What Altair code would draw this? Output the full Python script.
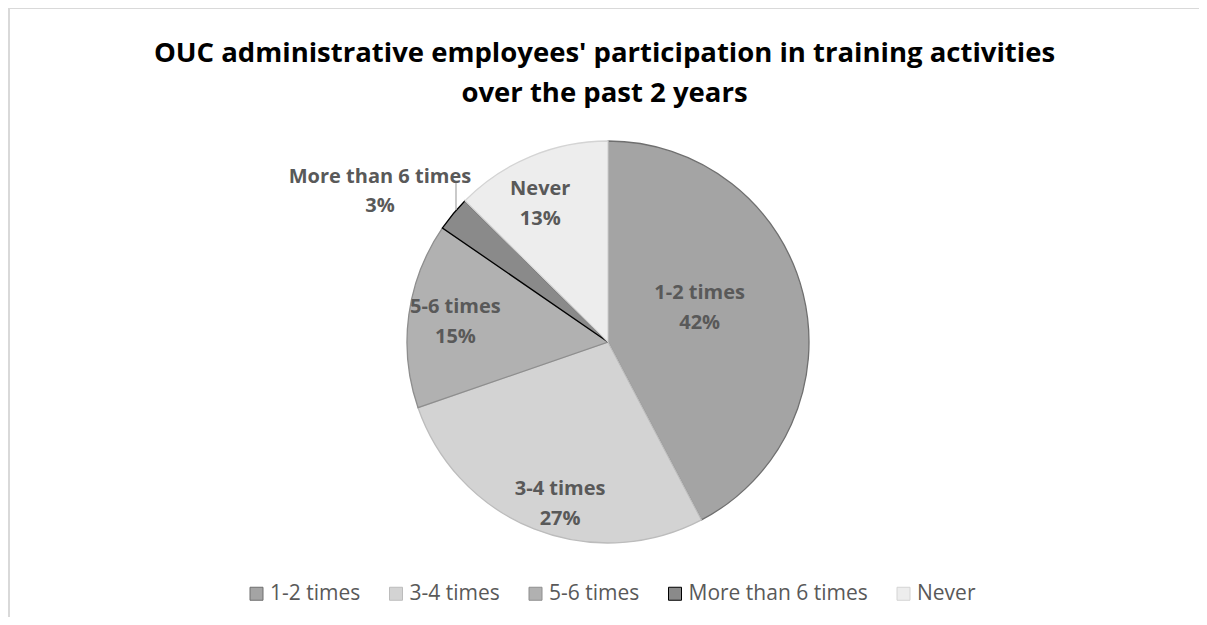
import math
import altair as alt
import pandas as pd

categories = ["1-2 times", "3-4 times", "5-6 times", "More than 6 times", "Never"]
values = [42.3, 27.4, 14.9, 2.8, 12.6]
fill_colors = ["#a4a4a4", "#d3d3d3", "#b1b1b1", "#8a8a8a", "#ededed"]
stroke_colors = ["#6f6f6f", "#bcbcbc", "#8e8e8e", "#000000", "#d4d4d4"]
title_lines = ["OUC administrative employees' participation in training activities",
               "over the past 2 years"]

df = pd.DataFrame({"category": categories, "value": values, "idx": list(range(len(categories)))})

# layout (plot-area coordinates; plot origin at page (10, 118))
W, H = 1189, 499
CX, CY = 598, 224
R = 201
label_r = {"1-2 times": 98, "3-4 times": 168, "5-6 times": 154, "More than 6 times": 270, "Never": 155}
label_shift = {"1-2 times": -1.9, "3-4 times": -1.4, "5-6 times": 0, "More than 6 times": 0, "Never": -0.9}


def case_expr(mapping, default):
    return " : ".join([f"datum.category == '{k}' ? {v}" for k, v in mapping.items()]) + f" : {default}"


theta_scale = alt.Scale(domain=[0, 100], range=[0, 2 * math.pi])

base = alt.Chart(df).transform_window(
    end="sum(value)", sort=[alt.SortField("idx")], frame=[None, 0]
).transform_calculate(
    start="datum.end - datum.value",
    pct="format(datum.value / 100, '.0%')",
    lr=case_expr(label_r, 150),
    lshift=case_expr(label_shift, 0),
).transform_calculate(
    lt="datum.end - datum.value / 2 + datum.lshift",
)

pie = base.mark_arc(radius=R, strokeWidth=1.3).encode(
    x=alt.value(CX),
    y=alt.value(CY),
    theta=alt.Theta("start:Q", scale=theta_scale, stack=False),
    theta2="end:Q",
    color=alt.Color(
        "category:N",
        scale=alt.Scale(domain=categories, range=fill_colors),
        legend=alt.Legend(
            title=None, orient="none", legendX=236, legendY=465, direction="horizontal",
            symbolType="square", symbolSize=169, symbolStrokeWidth=1,
            labelFont="Open Sans", labelFontSize=21, labelColor="#595959", labelLimit=400,
            columnPadding=24.5, labelOffset=3, padding=0,
        ),
    ),
    stroke=alt.Stroke("category:N", scale=alt.Scale(domain=categories, range=stroke_colors)),
)

inside = base.transform_calculate(
    label="datum.category == 'More than 6 times' ? '' : datum.category + '\\n' + datum.pct"
).mark_text(
    font="Open Sans", fontSize=20, fontWeight="bold", color="#595959",
    lineBreak="\n", lineHeight=30, baseline="middle", align="center", dy=-14,
).encode(
    x=alt.value(CX), y=alt.value(CY),
    theta=alt.Theta("lt:Q", scale=theta_scale, stack=False),
    radius=alt.Radius("lr:Q", scale=None),
    text="label:N",
)

outside = base.transform_calculate(
    label="datum.category == 'More than 6 times' ? datum.category + '\\n' + datum.pct : ''"
).mark_text(
    font="Open Sans", fontSize=20, fontWeight="bold", color="#595959",
    lineBreak="\n", lineHeight=29, baseline="middle", align="center", dx=-20, dy=7,
).encode(
    x=alt.value(CX), y=alt.value(CY),
    theta=alt.Theta("lt:Q", scale=theta_scale, stack=False),
    radius=alt.Radius("lr:Q", scale=None),
    text="label:N",
)

leader = alt.Chart(alt.Data(values=[{"k": 1}])).mark_rule(color="#a6a6a6", strokeWidth=1.2).encode(
    x=alt.value(446), y=alt.value(65), y2=alt.value(92)
)

frame = alt.Chart(alt.Data(values=[{"k": 1}])).mark_rect(
    fill="transparent", stroke="#d9d9d9", strokeWidth=2
).encode(
    x=alt.value(-1), x2=alt.value(W + 60), y=alt.value(-110), y2=alt.value(H + 60)
)

chart = alt.layer(frame, pie, inside, outside, leader).properties(
    width=W,
    height=H,
    padding={"left": 2, "top": 110, "right": 0, "bottom": 0},
    autosize=alt.AutoSizeParams(type="none"),
    title=alt.Title(
        text=title_lines, fontSize=27.5, font="Open Sans", fontWeight="bold", color="#000000",
        lineHeight=40, anchor="middle", frame="group", baseline="bottom", offset=-128,
    ),
).configure_view(stroke=None)

chart.save("out.html", embed_options={"renderer": "svg", "actions": False})
